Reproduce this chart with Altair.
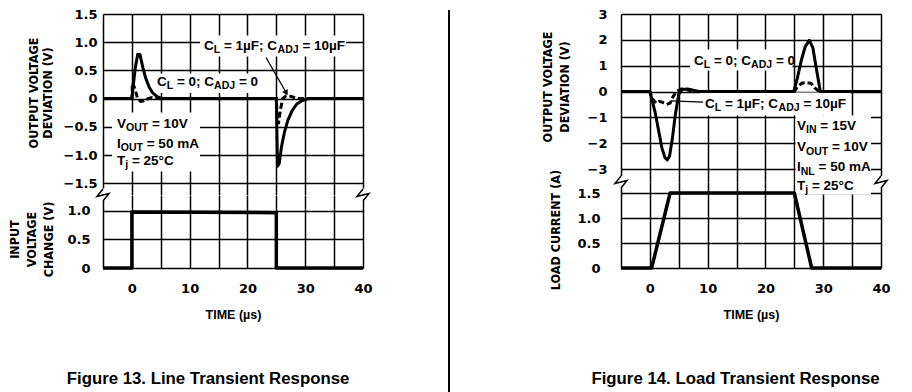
import altair as alt
import pandas as pd

# ---------------- data ----------------
X_TICKS = [-5, 0, 5, 10, 15, 20, 25, 30, 35, 40]

# Figure 13 - line transient: output voltage deviation (V)
lt_t_cl0 = [-5, 0, 0.2, 0.6, 1.0, 1.4, 1.9, 2.4, 3.0, 3.6, 4.3, 5.2, 25.0, 25.2, 25.5, 25.9, 26.4, 27.0, 27.7, 28.5, 29.4, 30.5, 40]
lt_v_cl0 = [0, 0, 0.2, 0.55, 0.78, 0.78, 0.55, 0.36, 0.2, 0.1, 0.04, 0, 0, -1.2, -1.15, -0.85, -0.6, -0.38, -0.22, -0.1, -0.04, 0, 0]
lt_t_cl1 = [-5, 0, 0.1, 0.5, 1.0, 1.5, 2.1, 2.8, 3.5, 4.5, 25.0, 25.15, 25.35, 25.7, 26.1, 26.7, 27.6, 28.5, 40]
lt_v_cl1 = [0, 0, 0.28, 0.18, 0.0, -0.05, -0.04, 0.0, 0.02, 0, 0, -0.3, -0.45, -0.2, 0.0, 0.05, 0.04, 0, 0]
# Figure 13 - input voltage change (V)
in_t = [-5, 0, 0, 25, 25, 40]
in_v = [0, 0, 0.98, 0.97, 0, 0]

# Figure 14 - load transient: output voltage deviation (V)
ld_t_cl0 = [-5, 0, 0.4, 0.9, 1.5, 2.1, 2.6, 3.0, 3.4, 3.9, 4.4, 5.0, 5.6, 6.5, 7.5, 8.5, 24.9, 25.5, 26.2, 26.9, 27.6, 28.2, 28.8, 29.5, 40]
ld_v_cl0 = [0, 0, -0.35, -0.8, -1.5, -2.2, -2.55, -2.65, -2.5, -1.8, -0.9, -0.1, 0.08, 0.1, 0.05, 0, 0, 0.5, 1.2, 1.75, 1.98, 1.7, 0.9, 0, 0]
ld_t_cl1 = [-5, 0, 0.5, 1.1, 1.6, 2.2, 2.9, 3.5, 4.0, 4.6, 5.4, 6.4, 7.5, 25.0, 25.6, 26.3, 27.1, 27.9, 28.5, 29.3, 40]
ld_v_cl1 = [0, 0, -0.3, -0.45, -0.38, -0.42, -0.5, -0.45, -0.2, 0.0, 0.1, 0.08, 0, 0, 0.2, 0.32, 0.35, 0.32, 0.15, 0, 0]
# Figure 14 - load current (A)
lc_t = [-5, 0.3, 3.5, 25.0, 28.0, 40]
lc_v = [0, 0, 1.5, 1.5, 0, 0]

# texts
CAP13 = "Figure 13. Line Transient Response"
CAP14 = "Figure 14. Load Transient Response"
TXT_CL1 = [("C", 0), ("L", 1), (" = 1µF; C", 0), ("ADJ", 1), (" = 10µF", 0)]
TXT_CL0 = [("C", 0), ("L", 1), (" = 0; C", 0), ("ADJ", 1), (" = 0", 0)]
TXT_VOUT = [("V", 0), ("OUT", 1), (" = 10V", 0)]
TXT_IOUT = [("I", 0), ("OUT", 1), (" = 50 mA", 0)]
TXT_TJ = [("T", 0), ("j", 1), (" = 25°C", 0)]
TXT_VIN = [("V", 0), ("IN", 1), (" = 15V", 0)]
TXT_INL = [("I", 0), ("NL", 1), (" = 50 mA", 0)]

# ---------------- layout / style ----------------
W = 260
XDOM = [-5, 40]
PPX = W / (XDOM[1] - XDOM[0])
# page-pixel frame of each panel (left edge, top edge) used to place annotations
LT_TOP = dict(dom=[-1.7, 1.5], h=180.5, left=103, top=14.5)
LT_BOT = dict(dom=[0, 1.28], h=73, left=103, top=195)
LD_TOP = dict(dom=[-3.5, 3], h=168, left=619, top=14.5)
LD_BOT = dict(dom=[0, 1.72], h=86, left=619, top=182.5)
for p in (LT_TOP, LT_BOT, LD_TOP, LD_BOT):
    p["ppy"] = p["h"] / (p["dom"][1] - p["dom"][0])


def tx(p, x):
    return XDOM[0] + (x - p["left"]) / PPX


def vy(p, y):
    return p["dom"][1] - (y - p["top"]) / p["ppy"]


ANN_FONT = "Liberation Sans"
TITLE_FONT = "DejaVu Sans Condensed, DejaVu Sans"
TICK_FONT = "DejaVu Sans"
FS = 13.5
SUBS = 0.78

AW = {' ': 278, '=': 584, ';': 333, '.': 278, '°': 400, 'µ': 611, 'A': 722, 'C': 722, 'D': 722,
      'F': 611, 'I': 278, 'J': 556, 'L': 611, 'N': 722, 'O': 778, 'T': 611, 'U': 722, 'V': 667,
      'a': 556, 'j': 278, 'm': 889}


def tw(s, size):
    return sum(AW.get(ch, 556) for ch in s) * size / 1000.0


def text_rows(p, x0, y0, parts):
    rows, cum = [], 0.0
    for s, sub in parts:
        size = FS * SUBS if sub else FS
        lead = len(s) - len(s.lstrip(' '))
        cum += lead * 278 * size / 1000.0
        body = s.strip(' ')
        rows.append({'t': tx(p, x0 + cum), 'v': vy(p, y0 + (3.5 if sub else 0.0)), 's': body, 'size': size})
        cum += tw(body, size)
        cum += (len(s) - len(s.rstrip(' '))) * 278 * size / 1000.0
    return rows


def line_df(ts, vs):
    return pd.DataFrame({'t': ts, 'v': vs, 'o': list(range(len(ts)))})


GRID = dict(grid=True, gridColor='black', gridOpacity=1, gridWidth=1.5, domain=False, ticks=False,
            labelFont=TICK_FONT, labelFontWeight='bold', labelFontSize=13, labelColor='black',
            titleFont=TITLE_FONT, titleFontWeight='bold', titleFontSize=12.5, titleColor='black')


def xenc(labels):
    if labels:
        ax = alt.Axis(values=X_TICKS, labelExpr="datum.value % 10 == 0 ? datum.value : ''",
                      labelFlush=False, labelOverlap=False, labelPadding=14,
                      title="TIME (µs)", titlePadding=13, **{**GRID, 'titleFont': ANN_FONT, 'titleFontSize': 12.5})
    else:
        ax = alt.Axis(values=X_TICKS, labels=False, title=None, **GRID)
    return alt.X('t:Q', scale=alt.Scale(domain=XDOM, nice=False, zero=False), axis=ax)


def yenc(p, **kw):
    return alt.Y('v:Q', scale=alt.Scale(domain=p["dom"], nice=False, zero=False),
                 axis=alt.Axis(labelOverlap=False, titleAngle=270, titleAlign='center', titleBaseline='top',
                               **GRID, **kw))


def panel(p, X, Y, bgs=(), covers=(), solid=None, dashed=None, leaders=(), arrow=None,
          texts=(), zig=None, lw=3):
    layers = []
    if bgs:
        df = pd.DataFrame([{'t': tx(p, a), 't2': tx(p, b), 'v': vy(p, c), 'v2': vy(p, d)} for a, c, b, d in bgs])
        layers.append(alt.Chart(df).mark_rect(color='white').encode(x=X, x2='t2:Q', y=Y, y2='v2:Q'))
    if covers:
        df = pd.DataFrame([{'t': a, 'v': b, 'v2': c} for a, b, c in covers])
        layers.append(alt.Chart(df).mark_rule(color='white', strokeWidth=4).encode(x=X, y=Y, y2='v2:Q'))
    if solid is not None:
        layers.append(alt.Chart(line_df(*solid)).mark_line(color='black', strokeWidth=lw, strokeJoin='round')
                      .encode(x=X, y=Y, order='o:Q'))
    if dashed is not None:
        layers.append(alt.Chart(line_df(*dashed)).mark_line(color='black', strokeWidth=lw, strokeDash=[6, 3])
                      .encode(x=X, y=Y, order='o:Q'))
    for (a, b, c, d) in leaders:
        layers.append(alt.Chart(line_df([tx(p, a), tx(p, c)], [vy(p, b), vy(p, d)]))
                      .mark_line(color='black', strokeWidth=1.3).encode(x=X, y=Y, order='o:Q'))
    if arrow is not None:
        ax_, ay_, ang = arrow
        layers.append(alt.Chart(pd.DataFrame({'t': [tx(p, ax_)], 'v': [vy(p, ay_)]}))
                      .mark_point(shape='triangle-up', filled=True, color='black', size=40, angle=ang, opacity=1)
                      .encode(x=X, y=Y))
    if texts:
        rows = []
        for x0, y0, parts in texts:
            rows += text_rows(p, x0, y0, parts)
        layers.append(alt.Chart(pd.DataFrame(rows))
                      .mark_text(align='left', baseline='alphabetic', font=ANN_FONT, fontWeight='bold', color='black')
                      .encode(x=X, y=Y, text='s:N', size=alt.Size('size:Q', scale=None)))
    if zig is not None:
        rows = []
        for g, tt in enumerate((XDOM[0], XDOM[1])):
            top = p["dom"][1]
            d = 6.0 / p["ppy"]
            e = 1.5 / p["ppy"]
            dt = 6.0 / PPX
            pts = [(tt, top + d), (tt - dt, top - e), (tt + dt, top + e), (tt, top - d)]
            for i, (a, b) in enumerate(pts):
                rows.append({'t': a, 'v': b, 'o': i, 'g': g})
        layers.append(alt.Chart(pd.DataFrame(rows)).mark_line(color='black', strokeWidth=1.5)
                      .encode(x=X, y=Y, order='o:Q', detail='g:N'))
    return alt.layer(*layers).properties(width=W, height=p["h"])


def break_covers(p, at_top):
    if at_top:
        lo = p["dom"][1]
        hi = lo - 6.0 / p["ppy"]
    else:
        lo = p["dom"][0]
        hi = lo + 6.0 / p["ppy"]
    return [(XDOM[0], lo, hi), (XDOM[1], lo, hi)]


LBL1 = "datum.value == 0 ? '0' : format(datum.value, '.1f')"

# ----- Figure 13 -----
X_top = xenc(False)
X_bot = xenc(True)
Y_lt_top = yenc(LT_TOP, values=[-1.5, -1, -0.5, 0, 0.5, 1, 1.5], labelExpr=LBL1, labelPadding=6,
                title=["OUTPUT VOLTAGE", "DEVIATION (V)"], titleX=-76, titleY=78.5, titleLineHeight=14)
Y_lt_bot = yenc(LT_BOT, values=[0, 0.5, 1], labelExpr=LBL1, labelPadding=13,
                title=["INPUT", "VOLTAGE", "CHANGE (V)"], titleX=-95, titleY=44, titleLineHeight=17)

# boxes are (x1, y1, x2, y2) and texts (x, baseline) in page pixels of the layout
lt_top = panel(
    LT_TOP, X_top, Y_lt_top,
    bgs=[(200, 36, 346, 57), (155, 74, 263, 93.5), (112, 113, 200, 172)],
    covers=break_covers(LT_TOP, False),
    solid=(lt_t_cl0, lt_v_cl0), dashed=(lt_t_cl1, lt_v_cl1),
    leaders=[(266, 58, 285.7, 92.3)], arrow=(286.3, 93.4, 151),
    texts=[(204, 50, TXT_CL1), (157, 86, TXT_CL0),
           (117, 128, TXT_VOUT), (117, 148, TXT_IOUT), (117, 165, TXT_TJ)],
)
lt_bot = panel(
    LT_BOT, X_bot, Y_lt_bot,
    covers=break_covers(LT_BOT, True),
    solid=(in_t, in_v), zig=True, lw=3.5,
)

# ----- Figure 14 -----
Y_ld_top = yenc(LD_TOP, values=[-3, -2, -1, 0, 1, 2, 3], labelExpr="format(datum.value, 'd')",
                labelPadding=14, title=["OUTPUT VOLTAGE", "DEVIATION (V)"], titleX=-80,
                titleY=72.5, titleLineHeight=17)
Y_ld_bot = yenc(LD_BOT, values=[0, 0.5, 1, 1.5], labelExpr=LBL1, labelPadding=21,
                title="LOAD CURRENT (A)", titleX=-72, titleY=47.5)

ld_top = panel(
    LD_TOP, X_top, Y_ld_top,
    bgs=[(688, 50, 790.5, 71), (698, 93, 848, 116)],
    covers=break_covers(LD_TOP, False),
    solid=(ld_t_cl0, ld_v_cl0), dashed=(ld_t_cl1, ld_v_cl1),
    leaders=[(668.7, 101.4, 701, 102.7)],
    texts=[(692, 65, TXT_CL0), (703, 108, TXT_CL1)],
)
ld_bot = panel(
    LD_BOT, X_bot, Y_ld_bot,
    bgs=[(793.5, 116, 869, 195)],
    covers=break_covers(LD_BOT, True),
    solid=(lc_t, lc_v), zig=True, lw=3.5,
    texts=[(795, 130, TXT_VIN), (795, 151.7, TXT_VOUT), (795, 171.7, TXT_INL), (795, 190, TXT_TJ)],
)


def caption(text, dx):
    return alt.TitleParams(text=text, orient='bottom', anchor='middle', offset=50, dx=dx,
                           font=ANN_FONT, fontSize=16.8, fontWeight='bold', color='black')


fig13 = alt.vconcat(lt_top, lt_bot, spacing=0, bounds='flush', title=caption(CAP13, 18))
fig14 = alt.vconcat(ld_top, ld_bot, spacing=0, bounds='flush', title=caption(CAP14, 20))

SEP_H = 384
sep = alt.Chart(pd.DataFrame({'a': [0]})).mark_rule(color='black', strokeWidth=2).encode(
    x=alt.value(1), y=alt.value(-4), y2=alt.value(SEP_H)).properties(width=2, height=SEP_H)

chart = alt.hconcat(fig13, alt.hconcat(sep, fig14, spacing=91), spacing=75).properties(
    padding=0, background='white'
).configure_view(stroke=None)

chart.save("out.html", embed_options={"renderer": "svg", "actions": False})
